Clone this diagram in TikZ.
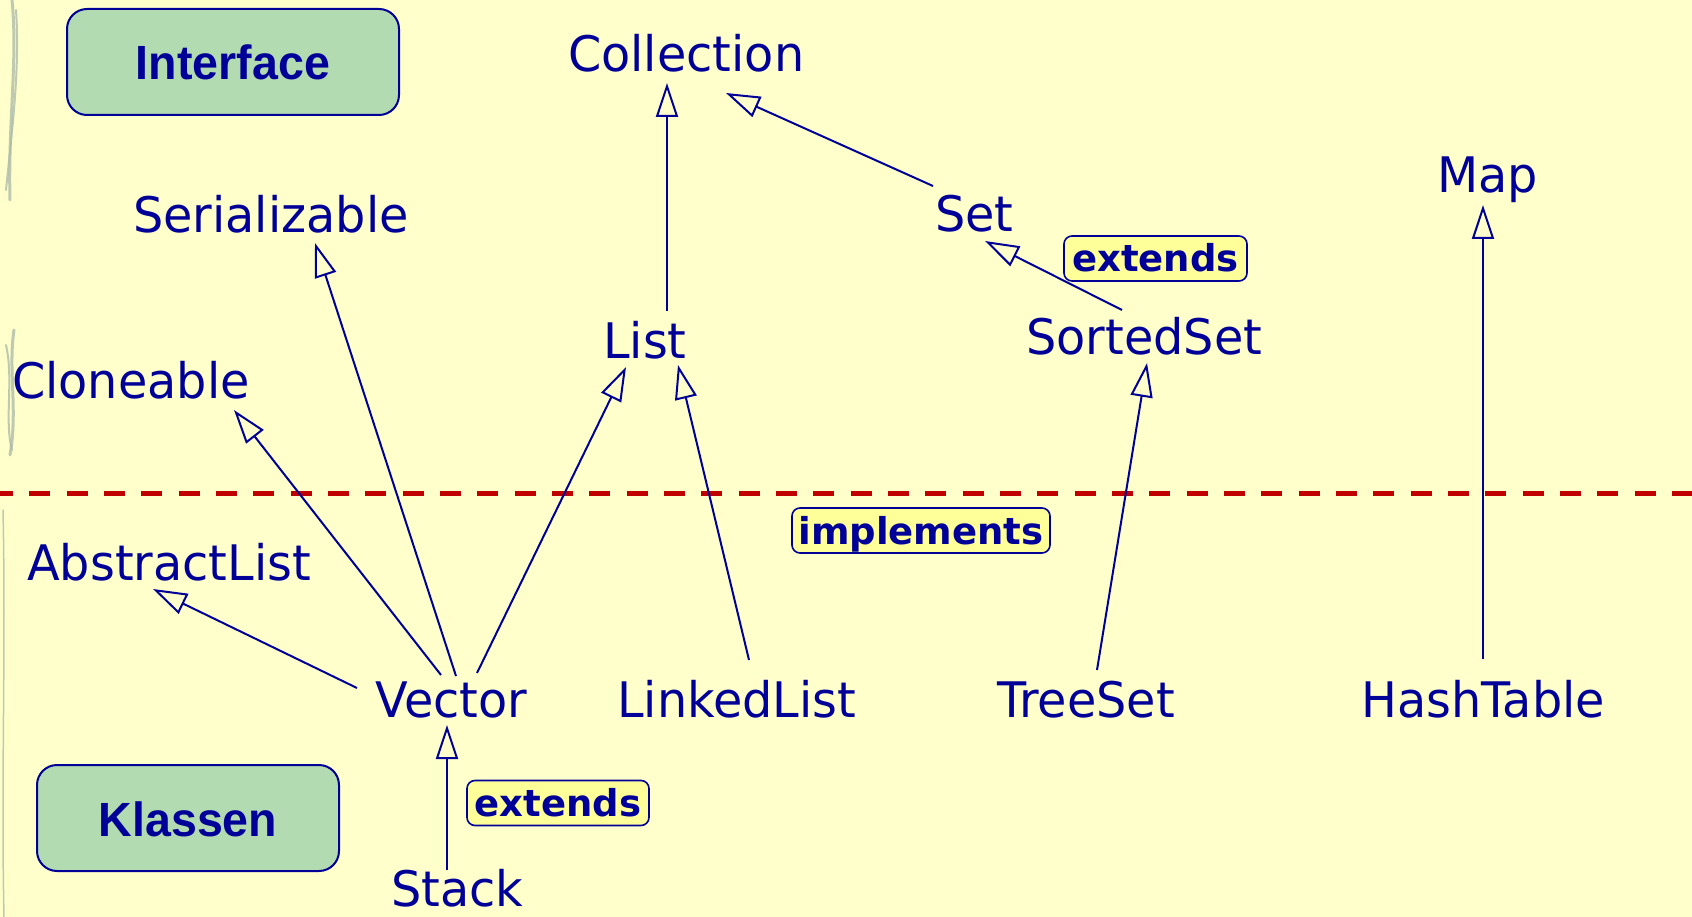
\documentclass[tikz,border=0pt]{standalone}
\usepackage{fontspec}
\setmainfont{DejaVu Sans}[FakeStretch=0.974]
\newfontfamily\legendfont{Liberation Sans}[FakeStretch=0.97]
\newfontfamily\tagfont{DejaVu Sans}
\usetikzlibrary{arrows.meta}

\definecolor{paper}{HTML}{FFFFCC}
\definecolor{ink}{HTML}{000099}
\definecolor{boxgreen}{HTML}{B3DBB1}
\definecolor{tagyellow}{HTML}{FFFF99}
\definecolor{divider}{HTML}{C00000}
\definecolor{stalk}{HTML}{AEBCAA}

\tikzset{
  cls/.style={anchor=base west, inner sep=0pt, text=ink,
    font=\fontsize{49}{58}\selectfont},
  conn/.style={draw=ink, line width=2pt,
    -{Triangle[open, length=34pt, width=22pt]}},
  legbox/.style={draw=ink, line width=2pt, fill=boxgreen,
    rounded corners=20pt, inner sep=0pt, text=ink,
    text height=36pt, text depth=0pt, minimum height=106pt,
    font=\legendfont\bfseries\fontsize{48}{58}\selectfont},
  tagbox/.style={draw=ink, line width=1.6pt, fill=tagyellow,
    rounded corners=8pt, inner sep=0pt, text=ink,
    text height=27pt, text depth=0pt, minimum height=45pt,
    font=\tagfont\bfseries\fontsize{37}{44}\selectfont},
}

\begin{document}
\begin{tikzpicture}[x=1pt, y=-1pt]
  \clip (0,0) rectangle (1692,917);
  \fill[paper] (0,0) rectangle (1692,917);

  % faint stalks along the left edge
  \begin{scope}[draw=stalk, line cap=round, opacity=0.8]
    \draw[line width=3pt] (12,0) .. controls (18,60) and (8,120) .. (10,200);
    \draw[line width=2pt] (16,10) .. controls (20,70) and (12,130) .. (6,190);
    \draw[line width=3pt] (14,330) .. controls (8,370) and (18,410) .. (10,455);
    \draw[line width=2pt] (6,345) .. controls (14,380) and (4,420) .. (12,450);
    \draw[line width=1.5pt] (3,510) .. controls (6,650) and (1,780) .. (4,917);
  \end{scope}

  % interface / class divider
  \draw[divider, line width=5pt, dash pattern=on 21pt off 16.33pt]
    (-8,493) -- (1700,493);

  % legend boxes
  \node[legbox, minimum width=332pt] (iface) at (233,62) {Interface};
  \node[legbox, minimum width=302pt] (klassen) at (188,818) {Klassen};

  % interfaces
  \node[cls] (coll)   at (568,72)  {Collection};
  \node[cls] (set)    at (935,232) {Set};
  \node[cls] (list)   at (603,358) {List};
  \node[cls] (sorted) at (1026,354) {SortedSet};
  \node[cls] (map)    at (1437,193) {Map};
  \node[cls] (ser)    at (133,233) {Serializable};
  \node[cls] (clone)  at (12,398)  {Cloneable};

  % classes
  \node[cls] (abst)   at (27,580)  {AbstractList};
  \node[cls] (vector) at (375,717) {Vector};
  \node[cls] (linked) at (617,717) {LinkedList};
  \node[cls] (tree)   at (997,717) {TreeSet};
  \node[cls] (hash)   at (1361,717) {HashTable};
  \node[cls] (stack)  at (391,906) {Stack};

  % relation labels
  \node[tagbox, minimum width=183pt] (extA) at (1155.5,258.5) {extends};
  \node[tagbox, minimum width=258pt] (impl) at (921,530.5) {implements};
  \node[tagbox, minimum width=182pt] (extB) at (558,803) {extends};

  % inheritance arrows
  \draw[conn] ([xshift=64pt,yshift=47pt]list.base west)
           -- ([xshift=99pt,yshift=-11pt]coll.base west);
  \draw[conn] ([xshift=-2pt,yshift=46pt]set.base west)
           -- ([xshift=158pt,yshift=-21pt]coll.base west);
  \draw[conn] ([xshift=96pt,yshift=44pt]sorted.base west)
           -- ([xshift=50pt,yshift=-9pt]set.base west);
  \draw[conn] ([xshift=100pt,yshift=47pt]tree.base west)
           -- ([xshift=121pt,yshift=-9pt]sorted.base west);
  \draw[conn] ([xshift=122pt,yshift=58pt]hash.base west)
           -- ([xshift=46pt,yshift=-12pt]map.base west);
  \draw[conn] ([xshift=81pt,yshift=41pt]vector.base west)
           -- ([xshift=182pt,yshift=-10pt]ser.base west);
  \draw[conn] ([xshift=66pt,yshift=42pt]vector.base west)
           -- ([xshift=222pt,yshift=-12pt]clone.base west);
  \draw[conn] ([xshift=102pt,yshift=44pt]vector.base west)
           -- ([xshift=23pt,yshift=-9pt]list.base west);
  \draw[conn] ([xshift=132pt,yshift=57pt]linked.base west)
           -- ([xshift=75pt,yshift=-7pt]list.base west);
  \draw[conn] ([xshift=-18pt,yshift=29pt]vector.base west)
           -- ([xshift=126pt,yshift=-9pt]abst.base west);
  \draw[conn] ([xshift=56pt,yshift=36pt]stack.base west)
           -- ([xshift=72pt,yshift=-8pt]vector.base west);
\end{tikzpicture}
\end{document}
